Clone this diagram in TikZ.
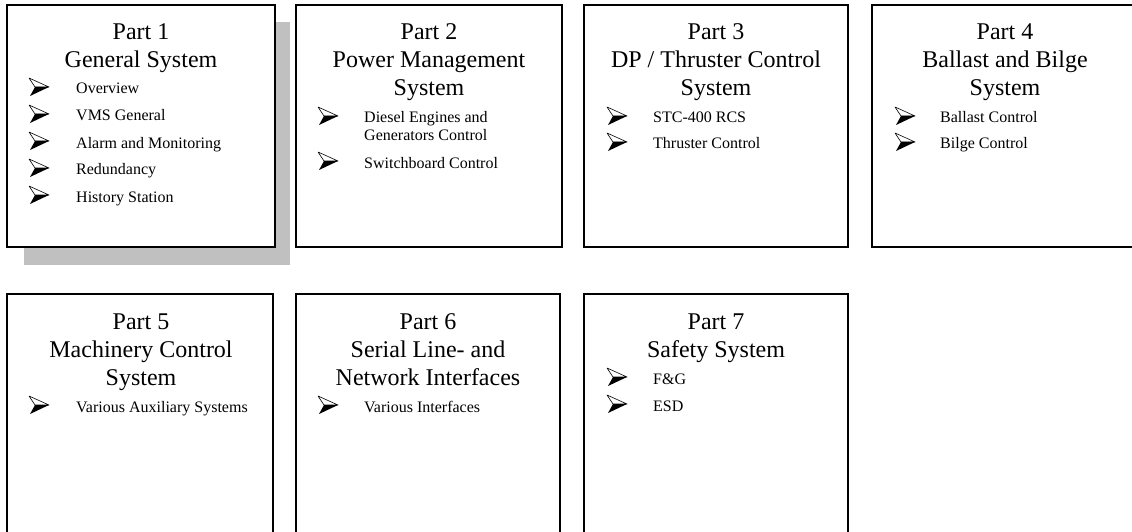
\documentclass[tikz,border=0pt]{standalone}
\usepackage{fontspec}
\setmainfont{Liberation Serif}
\definecolor{shadowgray}{RGB}{192,192,192}
\begin{document}
\begin{tikzpicture}[x=1pt,y=-1pt,
  frame/.style={draw=black,line width=2pt,fill=white,anchor=north west,
    minimum width=268pt,minimum height=242pt,inner sep=0pt,outer sep=0pt},
  shadowbox/.style={fill=shadowgray,anchor=north west,
    minimum width=266pt,minimum height=243pt,inner sep=0pt,outer sep=0pt},
  title/.style={font=\fontsize{24}{28}\selectfont,anchor=base,inner sep=0pt},
  item/.style={font=\fontsize{16}{18}\selectfont,anchor=base west,inner sep=0pt},
  arrowbullet/.pic={
    % upper facet: white with a black outline
    \filldraw[fill=white,draw=black,line width=0.6pt,line join=round]
      (0,-16) -- (20,-7) -- (6,-7) -- cycle;
    % lower facet: solid black
    \fill[black] (6,-7) -- (20,-7) -- (1,2) -- cycle;
  }]
\useasboundingbox (0,0) rectangle (1132,532);
\clip (0,0) rectangle (1132,532);

% ---------- top row ----------
\node[shadowbox] (shadow1) at (24,22) {};
\node[frame] (box1) at (7,5) {};
\node[frame,minimum width=266pt] (box2) at (296,5) {};
\node[frame,minimum width=264pt] (box3) at (584,5) {};
\node[frame,minimum width=266pt] (box4) at (872,5) {};

% Part 1
\node[title] (t1a) at (141,40) {Part 1};
\node[title] (t1b) at (141,68) {General System};
\pic at (29,94) {arrowbullet};
\node[item] (i1a) at (76,94) {Overview};
\pic at (29,121) {arrowbullet};
\node[item] (i1b) at (76,121) {VMS General};
\pic at (29,148) {arrowbullet};
\node[item] (i1c) at (76,148) {Alarm and Monitoring};
\pic at (29,175) {arrowbullet};
\node[item] (i1d) at (76,175) {Redundancy};
\pic at (29,202) {arrowbullet};
\node[item] (i1e) at (76,202) {History Station};

% Part 2
\node[title] (t2a) at (429,40) {Part 2};
\node[title] (t2b) at (429,68) {Power Management};
\node[title] (t2c) at (429,96) {System};
\pic at (318,123) {arrowbullet};
\node[item] (i2a) at (364,123) {Diesel Engines and};
\node[item] (i2b) at (364,140) {Generators Control};
\pic at (318,168) {arrowbullet};
\node[item] (i2c) at (364,168) {Switchboard Control};

% Part 3
\node[title] (t3a) at (716,40) {Part 3};
\node[title] (t3b) at (716,68) {DP / Thruster Control};
\node[title] (t3c) at (716,96) {System};
\pic at (607,123) {arrowbullet};
\node[item] (i3a) at (653,123) {STC-400 RCS};
\pic at (607,149) {arrowbullet};
\node[item] (i3b) at (653,149) {Thruster Control};

% Part 4
\node[title] (t4a) at (1005,40) {Part 4};
\node[title] (t4b) at (1005,68) {Ballast and Bilge};
\node[title] (t4c) at (1005,96) {System};
\pic at (895,123) {arrowbullet};
\node[item] (i4a) at (940,123) {Ballast Control};
\pic at (895,149) {arrowbullet};
\node[item] (i4b) at (940,149) {Bilge Control};

% ---------- bottom row ----------
\node[frame,minimum width=266pt,minimum height=260pt] (box5) at (7,294) {};
\node[frame,minimum width=264pt,minimum height=260pt] (box6) at (296,294) {};
\node[frame,minimum width=264pt,minimum height=260pt] (box7) at (584,294) {};

% Part 5
\node[title] (t5a) at (141,329) {Part 5};
\node[title] (t5b) at (141,357) {Machinery Control};
\node[title] (t5c) at (141,385) {System};
\pic at (29,412) {arrowbullet};
\node[item] (i5a) at (76,412) {Various Auxiliary Systems};

% Part 6
\node[title] (t6a) at (428,329) {Part 6};
\node[title] (t6b) at (428,357) {Serial Line- and};
\node[title] (t6c) at (428,385) {Network Interfaces};
\pic at (318,412) {arrowbullet};
\node[item] (i6a) at (364,412) {Various Interfaces};

% Part 7
\node[title] (t7a) at (716,329) {Part 7};
\node[title] (t7b) at (716,357) {Safety System};
\pic at (607,384) {arrowbullet};
\node[item] (i7a) at (653,384) {F\&G};
\pic at (607,411) {arrowbullet};
\node[item] (i7b) at (653,411) {ESD};
\end{tikzpicture}
\end{document}
